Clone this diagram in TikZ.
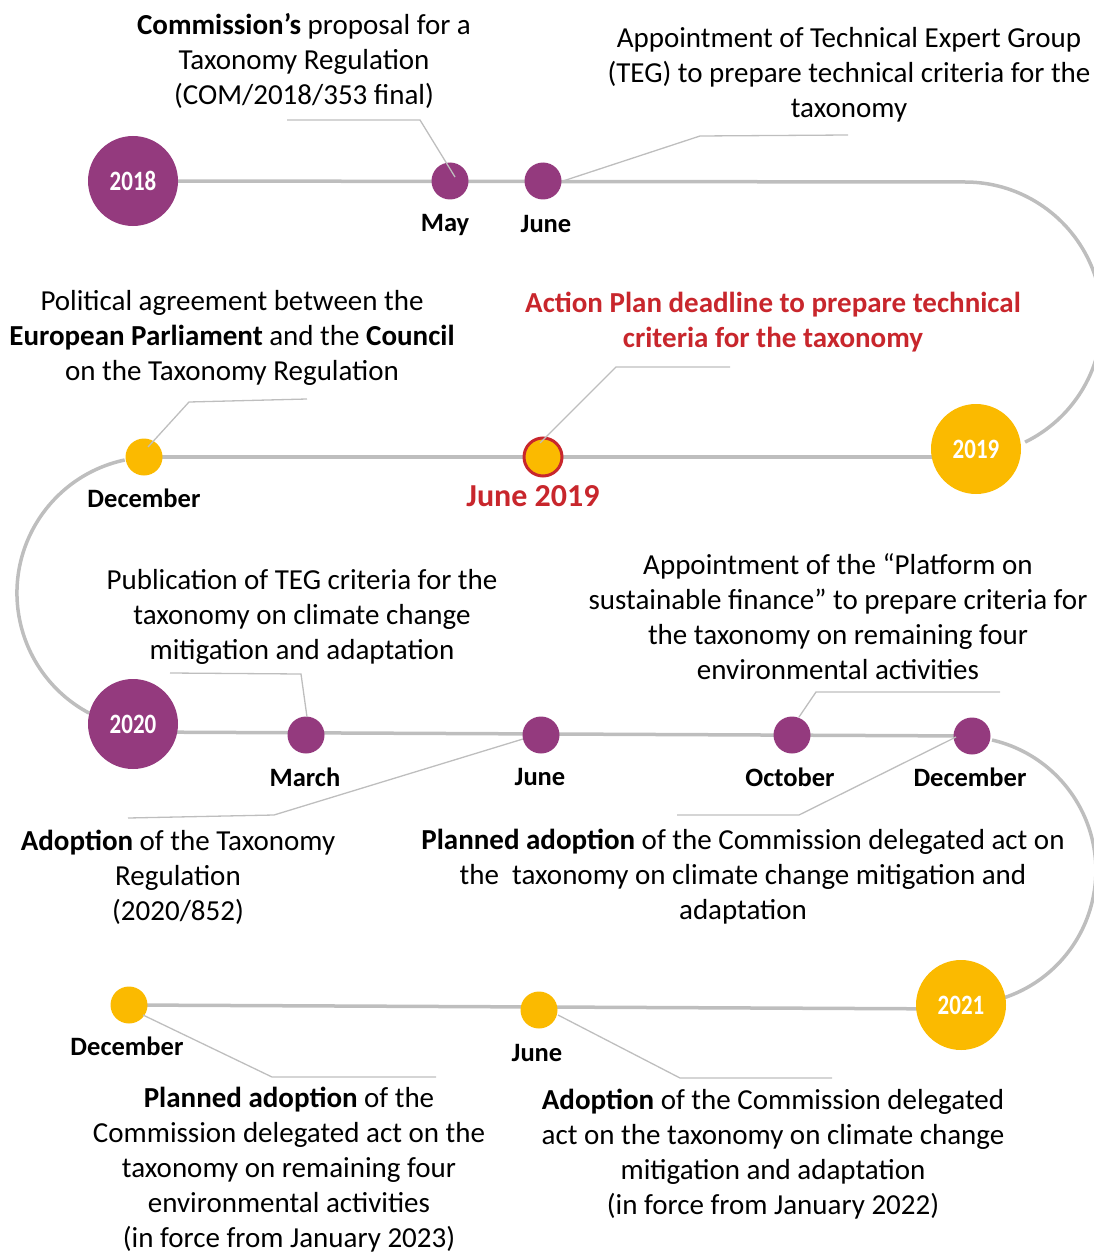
\documentclass[tikz,border=0pt]{standalone}
\usepackage{graphicx}
\usepackage{fontspec}
\setmainfont{Carlito}
\definecolor{purp}{HTML}{943A7E}
\definecolor{yel}{HTML}{FBBA00}
\definecolor{redc}{HTML}{C8262C}
\definecolor{tl}{HTML}{BEBEBE}
\newcommand\txtfont{\fontsize{29}{35}\selectfont}
\newcommand\monfont{\fontsize{26.5}{30}\selectfont\bfseries}
\newcommand\yrfont{\fontsize{28}{30}\selectfont\bfseries}
\newcommand\yr[1]{\scalebox{0.82}[1]{#1}}
\begin{document}
\begin{tikzpicture}[x=1pt,y=1pt,
  tline/.style={draw=tl,line width=3.5pt},
  lead/.style={draw=tl,line width=1.3pt},
  yearP/.style={circle,fill=purp,minimum size=90pt,inner sep=0pt,text=white,font=\yrfont},
  yearY/.style={circle,fill=yel,minimum size=90pt,inner sep=0pt,text=white,font=\yrfont},
  dotP/.style={circle,fill=purp,minimum size=37pt,inner sep=0pt},
  dotY/.style={circle,fill=yel,minimum size=37pt,inner sep=0pt},
  mon/.style={font=\monfont,inner sep=0pt},
  txt/.style={align=center,font=\txtfont,inner sep=0pt},
]
\useasboundingbox (0,0) rectangle (1094,-1252);

% centres
\coordinate (c18) at (133,-181);
\coordinate (may) at (450,-181);
\coordinate (jun18) at (543,-181);
\coordinate (r1) at (965,-182);
\coordinate (c19) at (976,-449);
\coordinate (l2r) at (976,-457);
\coordinate (jun19) at (543,-457);
\coordinate (dec19) at (144,-457);
\coordinate (arcL) at (124.7,-460);
\coordinate (c20) at (133,-724);
\coordinate (l3l) at (133,-732);
\coordinate (mar) at (306,-735);
\coordinate (jun20) at (541,-735);
\coordinate (oct) at (792,-735);
\coordinate (dec20) at (972,-736);
\coordinate (arcR) at (992,-740);
\coordinate (c21) at (961,-1005);
\coordinate (l4r) at (961,-1009);
\coordinate (jun21) at (539,-1010);
\coordinate (dec21) at (129,-1005);

% timeline
\draw[tline] (c18) -- (r1) arc[start angle=90,end angle=-64,radius=137];
\draw[tline] (l2r) -- (dec19);
\draw[tline] (arcL) arc[start angle=102,end angle=242,radius=136];
\draw[tline] (l3l) -- (dec20);
\draw[tline] (arcR) arc[start angle=77,end angle=-72,radius=134];
\draw[tline] (l4r) -- (dec21);

% circles
\node[yearP] (n18) at (c18) {\yr{2018}};
\node[dotP] (nmay) at (may) {};
\node[dotP] (njun18) at (jun18) {};
\node[yearY] (n19) at (c19) {\yr{2019}};
\node[dotY,draw=redc,line width=3pt,minimum size=38pt] (njun19) at (jun19) {};
\node[dotY] (ndec19) at (dec19) {};
\node[yearP] (n20) at (c20) {\yr{2020}};
\node[dotP] (nmar) at (mar) {};
\node[dotP] (njun20) at (jun20) {};
\node[dotP] (noct) at (oct) {};
\node[dotP] (ndec20) at (dec20) {};
\node[yearY] (n21) at (c21) {\yr{2021}};
\node[dotY] (njun21) at (jun21) {};
\node[dotY] (ndec21) at (dec21) {};

% leader coordinates
\coordinate (mayA) at (287,-120); \coordinate (mayB) at (420,-120); \coordinate (mayC) at (455,-177);
\coordinate (j18A) at (563,-181); \coordinate (j18B) at (700,-136); \coordinate (j18C) at (848,-135);
\coordinate (d19A) at (307,-399); \coordinate (d19B) at (189,-402); \coordinate (d19C) at (148,-447);
\coordinate (j19A) at (540,-443); \coordinate (j19B) at (616,-367); \coordinate (j19C) at (730,-367);
\coordinate (marA) at (170,-673); \coordinate (marB) at (301,-674); \coordinate (marC) at (307,-717);
\coordinate (octA) at (1000,-692); \coordinate (octB) at (816,-692); \coordinate (octC) at (799,-717);
\coordinate (j20A) at (523,-739); \coordinate (j20B) at (274,-815); \coordinate (j20C) at (128,-818);
\coordinate (d20A) at (956,-737); \coordinate (d20B) at (799,-815); \coordinate (d20C) at (677,-815);
\coordinate (d21A) at (143,-1015); \coordinate (d21B) at (272,-1077); \coordinate (d21C) at (436,-1077);
\coordinate (j21A) at (558,-1015); \coordinate (j21B) at (680,-1078); \coordinate (j21C) at (832,-1078);

\draw[lead] (mayA) -- (mayB) -- (mayC);
\draw[lead] (j18A) -- (j18B) -- (j18C);
\draw[lead] (d19A) -- (d19B) -- (d19C);
\draw[lead] (j19A) -- (j19B) -- (j19C);
\draw[lead] (marA) -- (marB) -- (marC);
\draw[lead] (octA) -- (octB) -- (octC);
\draw[lead] (j20A) -- (j20B) -- (j20C);
\draw[lead] (d20A) -- (d20B) -- (d20C);
\draw[lead] (d21A) -- (d21B) -- (d21C);
\draw[lead] (j21A) -- (j21B) -- (j21C);

% month labels
\node[mon] (lmay) at (445,-225) {May};
\node[mon] (ljun18) at (546,-224) {June};
\node[mon] (ldec19) at (144,-498) {December};
\node[mon,text=redc,font=\fontsize{32}{34}\selectfont\bfseries] (ljun19) at (533,-496) {June 2019};
\node[mon] (lmar) at (305,-777) {March};
\node[mon] (ljun20) at (540,-777) {June};
\node[mon] (loct) at (790,-777) {October};
\node[mon] (ldec20) at (970,-777) {December};
\node[mon] (ldec21) at (127,-1046) {December};
\node[mon] (ljun21) at (537,-1053) {June};

% texts
\node[txt] (t1) at (304,-61) {\textbf{Commission's} proposal for a\\Taxonomy Regulation\\(COM/2018/353 final)};
\node[txt] (t2) at (849,-75) {Appointment of Technical Expert Group\\(TEG) to prepare technical criteria for the\\taxonomy};
\node[txt] (t3) at (232,-338) {Political agreement between the\\\textbf{European Parliament} and the \textbf{Council}\\on the Taxonomy Regulation};
\node[txt,text=redc,font=\txtfont\bfseries] (t4) at (773,-322) {Action Plan deadline to prepare technical\\criteria for the taxonomy};
\node[txt] (t7) at (302,-617) {Publication of TEG criteria for the\\taxonomy on climate change\\mitigation and adaptation};
\node[txt] (t8) at (838,-617) {Appointment of the ``Platform on\\sustainable finance'' to prepare criteria for\\the taxonomy on remaining four\\environmental activities};
\node[txt] (t9) at (178,-877) {\textbf{Adoption} of the Taxonomy\\Regulation\\(2020/852)};
\node[txt] (t10) at (743,-877) {\textbf{Planned adoption} of the Commission delegated act on\\the\ \ taxonomy on climate change mitigation and\\adaptation};
\node[txt] (t12) at (289,-1170) {\textbf{Planned adoption} of the\\Commission delegated act on the\\taxonomy on remaining four\\environmental activities\\(in force from January 2023)};
\node[txt] (t13) at (773,-1154) {\textbf{Adoption} of the Commission delegated\\act on the taxonomy on climate change\\mitigation and adaptation\\(in force from January 2022)};
\end{tikzpicture}
\end{document}
